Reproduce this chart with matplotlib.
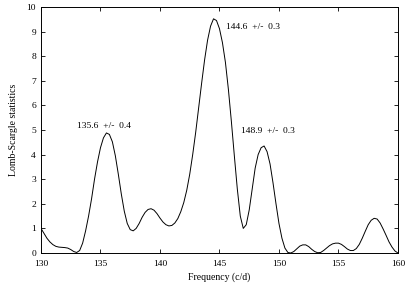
import numpy as np
import matplotlib.pyplot as plt

# Lomb-Scargle periodogram, values
freq = np.arange(130.0, 160.001, 0.25)
power = [1.00, 0.80, 0.60, 0.45, 0.34, 0.27, 0.24, 0.23, 0.22, 0.20, 0.14, 0.06,
         0.02, 0.10, 0.40, 0.90, 1.50, 2.20, 3.00, 3.70, 4.28, 4.68, 4.88, 4.82,
         4.52, 3.95, 3.20, 2.40, 1.70, 1.20, 0.95, 0.90, 1.00, 1.20, 1.45, 1.65,
         1.77, 1.80, 1.74, 1.60, 1.42, 1.26, 1.15, 1.10, 1.12, 1.22, 1.40, 1.68,
         2.05, 2.55, 3.20, 4.00, 4.90, 5.90, 6.90, 7.85, 8.65, 9.22, 9.52, 9.45,
         9.12, 8.55, 7.75, 6.65, 5.35, 3.95, 2.60, 1.50, 1.00, 1.15, 1.75, 2.60,
         3.45, 4.00, 4.28, 4.35, 4.12, 3.62, 2.85, 2.00, 1.20, 0.60, 0.20, 0.02,
         0.00, 0.06, 0.17, 0.28, 0.33, 0.33, 0.26, 0.15, 0.06, 0.01, 0.02, 0.10,
         0.20, 0.30, 0.37, 0.40, 0.40, 0.35, 0.26, 0.16, 0.10, 0.10, 0.18, 0.35,
         0.60, 0.88, 1.15, 1.33, 1.41, 1.38, 1.22, 0.98, 0.72, 0.45, 0.24, 0.08,
         0.00]

peak_labels = ["135.6  +/-  0.4", "144.6  +/-  0.3", "148.9  +/-  0.3"]
label_pos = [(133.05, 5.16), (145.55, 9.19), (146.8, 4.96)]

plt.rcParams['font.family'] = ['Liberation Serif', 'FreeSerif', 'DejaVu Serif']

fig = plt.figure(figsize=(4.09, 2.87), dpi=100)
ax = fig.add_axes([0.1002, 0.1185, 0.8728, 0.8571])

ax.plot(freq, power, color='black', lw=0.7)

for txt, (fx, fy) in zip(peak_labels, label_pos):
    ax.text(fx, fy, txt, fontsize=6.8, ha='left', va='center')

ax.set_xlim(130, 160)
ax.set_ylim(0, 10)
ax.set_xticks(np.arange(130, 161, 5))
ax.set_yticks(np.arange(0, 11, 1))
ax.tick_params(direction='in', top=True, right=True, labelsize=6.8,
               length=3, width=0.6)
ax.tick_params(axis='x', pad=5)
ax.tick_params(axis='y', pad=3.5)
for s in ax.spines.values():
    s.set_linewidth(0.7)

ax.set_xlabel("Frequency (c/d)", fontsize=7)
ax.set_ylabel("Lomb-Scargle statistics", fontsize=7)
ax.xaxis.set_label_coords(0.5, -0.08)
ax.yaxis.set_label_coords(-0.064, 0.5)

fig.savefig("out.png", dpi=100)
